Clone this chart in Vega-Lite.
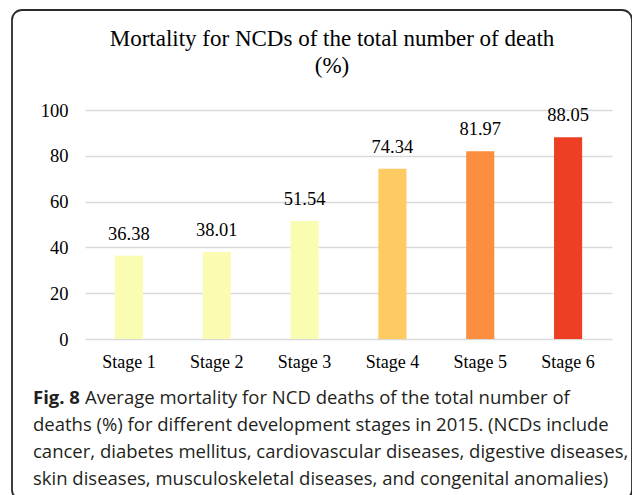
{
  "$schema": "https://vega.github.io/schema/vega-lite/v6.json",
  "background": "white",
  "padding": {"left": 12, "top": 10, "right": 0, "bottom": 0},
  "width": 620,
  "height": 490,
  "config": {"view": {"stroke": "#2b2b2b", "strokeWidth": 1.8, "cornerRadius": 10}},
  "title": {
    "text": ["Mortality for NCDs of the total number of death", "(%)"],
    "font": "Liberation Serif",
    "fontSize": 23,
    "fontWeight": "normal",
    "color": "#000000",
    "lineHeight": 27,
    "anchor": "middle",
    "frame": "group",
    "baseline": "alphabetic",
    "dx": 10,
    "offset": -86
  },
  "datasets": {
    "stages": [
      {"stage": "Stage 1", "value": 36.38},
      {"stage": "Stage 2", "value": 38.01},
      {"stage": "Stage 3", "value": 51.54},
      {"stage": "Stage 4", "value": 74.34},
      {"stage": "Stage 5", "value": 81.97},
      {"stage": "Stage 6", "value": 88.05}
    ],
    "caption": [
      {"line": 1, "part": "label", "text": "Fig. 8"},
      {"line": 1, "part": "first", "text": "Average mortality for NCD deaths of the total number of"},
      {"line": 2, "part": "rest", "text": "deaths (%) for different development stages in 2015. (NCDs include"},
      {"line": 3, "part": "rest", "text": "cancer, diabetes mellitus, cardiovascular diseases, digestive diseases,"},
      {"line": 4, "part": "rest", "text": "skin diseases, musculoskeletal diseases, and congenital anomalies)"}
    ]
  },
  "resolve": {"scale": {"x": "independent", "y": "independent"}, "axis": {"x": "independent", "y": "independent"}},
  "layer": [
    {
      "data": {"name": "stages"},
      "encoding": {
        "x": {
          "field": "stage",
          "type": "nominal",
          "sort": null,
          "scale": {"range": [73, 600], "paddingInner": 0.68, "paddingOuter": 0.34},
          "axis": {
            "title": null,
            "labelAngle": 0,
            "domain": false,
            "ticks": false,
            "grid": false,
            "offset": -161,
            "labelFont": "Liberation Serif",
            "labelFontSize": 18,
            "labelColor": "#000000",
            "labelPadding": 14
          }
        },
        "y": {
          "field": "value",
          "type": "quantitative",
          "scale": {"domain": [0, 100], "range": [329, 100]},
          "axis": {
            "title": null,
            "values": [0, 20, 40, 60, 80, 100],
            "domain": false,
            "ticks": false,
            "grid": true,
            "gridColor": "#d9d9d9",
            "gridWidth": 1.5,
            "offset": -73,
            "labelFont": "Liberation Serif",
            "labelFontSize": 18.5,
            "labelColor": "#000000",
            "labelPadding": 17
          }
        }
      },
      "layer": [
        {
          "mark": {"type": "bar"},
          "encoding": {
            "color": {
              "field": "stage",
              "type": "nominal",
              "legend": null,
              "scale": {
                "domain": ["Stage 1", "Stage 2", "Stage 3", "Stage 4", "Stage 5", "Stage 6"],
                "range": ["#f9fcb1", "#f9fcb1", "#f9fcb1", "#fdcb62", "#fb8f3f", "#ee3e24"]
              }
            }
          }
        },
        {
          "mark": {
            "type": "text",
            "baseline": "alphabetic",
            "dy": -16,
            "font": "Liberation Serif",
            "fontSize": 18.5,
            "color": "#000000"
          },
          "encoding": {"text": {"field": "value", "type": "quantitative", "format": ".2f"}}
        }
      ]
    },
    {
      "data": {"name": "caption"},
      "encoding": {
        "y": {"field": "line", "type": "ordinal", "axis": null, "scale": {"range": [394, 475], "padding": 0}},
        "x": {"datum": 0, "type": "quantitative", "scale": {"domain": [0, 1]}, "axis": null},
        "text": {"field": "text", "type": "nominal"}
      },
      "layer": [
        {
          "transform": [{"filter": "datum.part == 'label'"}],
          "mark": {"type": "text", "align": "left", "baseline": "alphabetic", "dx": 21, "font": "Open Sans", "fontSize": 18.5, "fontWeight": "bold", "color": "#231f20"}
        },
        {
          "transform": [{"filter": "datum.part == 'first'"}],
          "mark": {"type": "text", "align": "left", "baseline": "alphabetic", "dx": 73, "font": "Open Sans", "fontSize": 18.5, "color": "#231f20"}
        },
        {
          "transform": [{"filter": "datum.part == 'rest'"}],
          "mark": {"type": "text", "align": "left", "baseline": "alphabetic", "dx": 21, "font": "Open Sans", "fontSize": 18.5, "color": "#231f20"}
        }
      ]
    }
  ]
}
